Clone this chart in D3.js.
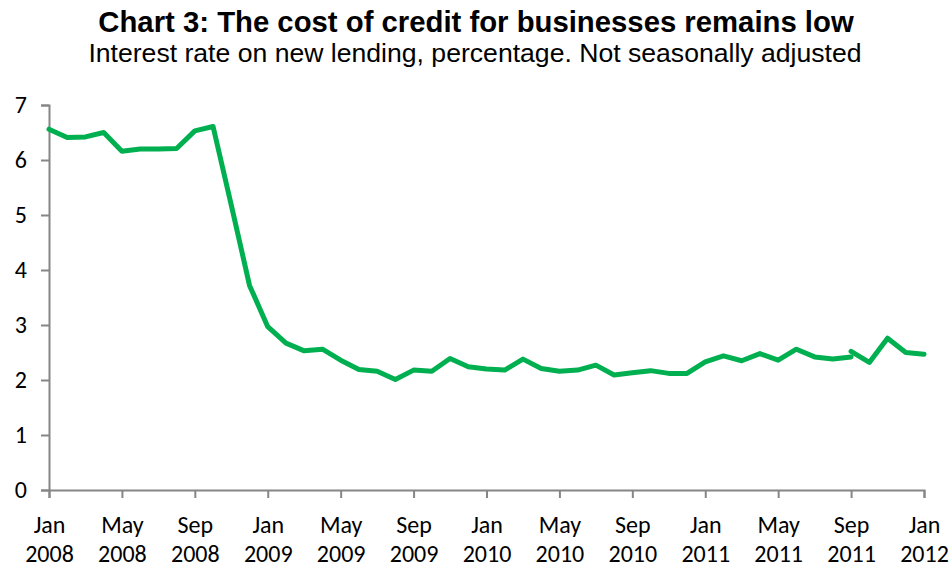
<!DOCTYPE html>
<html><head><meta charset="utf-8">
<script src="https://cdn.jsdelivr.net/npm/d3@7"></script>
<style>
body{margin:0;background:#fff;}
svg{display:block;}
</style></head>
<body><svg id="chart" width="952" height="570"></svg>
<script>
// Data
const titleText = "Chart 3: The cost of credit for businesses remains low";
const subtitleText = "Interest rate on new lending, percentage. Not seasonally adjusted";
const months = d3.timeMonths(new Date(2008,0,1), new Date(2012,0,2)); // Jan 2008 .. Jan 2012
// old series Jan 2008 - Sep 2011
const oldSeries = [6.56,6.41,6.42,6.50,6.16,6.20,6.20,6.21,6.53,6.61,5.18,3.72,
  2.97,2.67,2.53,2.56,2.36,2.19,2.16,2.01,2.18,2.16,2.39,2.24,
  2.20,2.18,2.38,2.21,2.16,2.18,2.27,2.09,2.13,2.17,2.12,2.12,
  2.33,2.44,2.35,2.48,2.36,2.56,2.42,2.38,2.42];
// new series Sep 2011 - Jan 2012
const newSeries = [2.52,2.32,2.76,2.50,2.47];
const newStart = 44;
const yTicks = [0,1,2,3,4,5,6,7];
const fmtMon = d3.timeFormat("%b"), fmtYr = d3.timeFormat("%Y");

const svg = d3.select("#chart");
const M = {left:49, right:924, top:105, bottom:490};
const x = d3.scaleLinear().domain([0, months.length-1]).range([M.left, M.right]);
const y = d3.scaleLinear().domain([0,7]).range([M.bottom, M.top]);
const axisColor = "#868686";
const tickFont = "Carlito, Lato, sans-serif", tickSize = 24;

svg.append("text").attr("x",476).attr("y",32).attr("text-anchor","middle")
  .attr("font-family","'Liberation Sans', Arial, sans-serif").attr("font-weight","bold")
  .attr("font-size",29.3).attr("fill","#000").text(titleText);
svg.append("text").attr("x",475).attr("y",62).attr("text-anchor","middle")
  .attr("font-family","'Liberation Sans', Arial, sans-serif")
  .attr("font-size",26.6).attr("fill","#000").text(subtitleText);

// Y axis
const yAxis = d3.axisLeft(y).tickValues(yTicks).tickSize(8).tickPadding(14).tickFormat(d3.format("d"));
const gy = svg.append("g").attr("transform",`translate(${M.left},0)`).call(yAxis);
gy.select(".domain").attr("stroke",axisColor).attr("stroke-width",2);
gy.selectAll(".tick line").attr("stroke",axisColor).attr("stroke-width",2);
gy.selectAll(".tick text").attr("font-family",tickFont).attr("font-size",tickSize).attr("fill","#000");

// X axis
const tickIdx = d3.range(0, months.length, 4);
const xAxis = d3.axisBottom(x).tickValues(tickIdx).tickSize(8).tickFormat("");
const gx = svg.append("g").attr("transform",`translate(0,${M.bottom})`).call(xAxis);
gx.select(".domain").attr("stroke",axisColor).attr("stroke-width",2);
gx.selectAll(".tick line").attr("stroke",axisColor).attr("stroke-width",2);
gx.selectAll(".tick").each(function(i){
  const t = d3.select(this).append("text").attr("fill","#000").attr("text-anchor","middle")
    .attr("font-family",tickFont).attr("font-size",tickSize);
  t.append("tspan").attr("x",0).attr("y",43).text(fmtMon(months[i]));
  t.append("tspan").attr("x",0).attr("y",72).text(fmtYr(months[i]));
});

const line = d3.line().x(d=>x(d[0])).y(d=>y(d[1]));
const oldPts = oldSeries.map((v,i)=>[i,v]);
const newPts = newSeries.map((v,i)=>[newStart+i,v]);
[oldPts,newPts].forEach(pts=>{
  svg.append("path").datum(pts).attr("d",line).attr("fill","none")
    .attr("stroke","#00B050").attr("stroke-width",5)
    .attr("stroke-linejoin","round").attr("stroke-linecap","round");
});
</script></body></html>
